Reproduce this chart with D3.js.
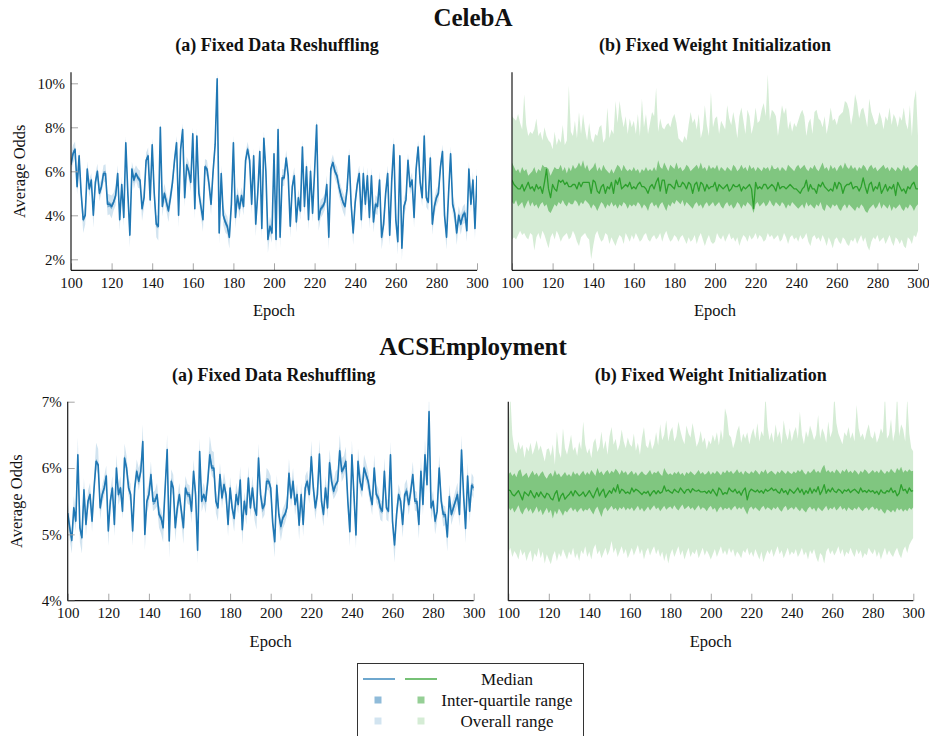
<!DOCTYPE html>
<html><head><meta charset="utf-8">
<script src="https://cdn.jsdelivr.net/npm/d3@7/dist/d3.min.js"></script>
<style>
html,body{margin:0;padding:0;background:#fff;}
svg{display:block;}
text{font-family:"Liberation Serif","Times New Roman",serif;fill:#111;}
</style></head>
<body>
<svg id="chart" width="929" height="736"></svg>
<script>
// ---------- data ----------
const epochs = d3.range(100, 301);
const xTicks = [100,120,140,160,180,200,220,240,260,280,300];
const celebTicks = [2,4,6,8,10];
const acsTicks = [4,5,6,7];
const datasets = ["CelebA","ACSEmployment"];
const subtitles = ["(a) Fixed Data Reshuffling","(b) Fixed Weight Initialization"];
const legendLabels = ["Median","Inter-quartile range","Overall range"];

// CelebA (a) median, %
const celebA_med = [
6.3,6.8,7.0,5.3,6.7,5.0,3.8,4.0,6.1,5.2,
5.6,4.0,5.5,6.0,5.0,5.3,5.9,5.9,4.5,4.5,
4.4,4.6,4.9,5.9,3.8,5.4,3.9,7.3,5.0,3.1,
6.1,5.6,5.9,5.7,5.6,4.3,4.8,6.5,6.7,4.7,
7.2,5.0,3.6,3.5,8.0,4.4,5.0,4.6,4.2,4.8,
5.5,6.5,7.3,4.0,7.0,7.9,4.8,6.3,6.0,5.5,
7.7,4.3,7.6,5.0,4.4,3.8,6.2,6.1,5.4,4.5,
6.0,7.2,10.2,3.2,5.9,4.0,3.7,3.5,3.0,4.5,
7.3,3.9,4.9,4.3,4.9,4.4,6.5,7.0,6.5,4.5,
6.7,3.6,5.0,6.9,3.4,7.5,6.0,2.9,3.5,3.2,
6.8,2.9,7.9,3.0,5.7,5.7,6.6,5.8,3.5,5.3,
5.8,3.7,4.8,4.2,7.1,4.4,6.2,3.8,6.0,4.1,
6.0,8.1,3.8,4.3,4.4,4.6,5.4,3.0,6.1,6.4,
6.0,5.8,5.3,4.9,4.6,4.4,5.2,6.7,4.5,3.2,
4.6,5.4,5.9,3.8,5.9,4.5,5.8,3.9,5.8,3.7,
4.5,4.4,5.6,3.0,3.6,5.0,5.9,3.1,5.6,7.2,
3.8,2.8,6.7,2.5,4.4,4.7,6.5,5.3,5.6,3.9,
6.1,7.1,5.5,4.8,7.6,4.8,4.6,6.6,3.6,4.4,
4.8,5.0,6.2,6.9,4.0,3.0,5.0,6.8,4.5,4.1,
3.2,4.0,3.6,4.0,4.1,3.3,6.1,4.5,5.6,3.4,
5.8];
// CelebA (a) half inter-quartile width, hundredths of %
const celebA_iqr = [
10,12,9,14,11,13,10,12,9,11, 12,10,14,9,11,13,10,12,15,11,
13,10,12,9,14,11,10,13,12,10, 11,14,9,12,10,13,11,9,12,10,
14,11,13,10,12,9,11,14,10,12, 10,13,11,12,9,14,10,12,11,13,
12,9,14,11,10,13,12,10,11,9, 13,11,15,10,12,11,14,12,10,13,
11,12,10,14,9,12,11,13,10,12, 12,10,13,11,14,9,12,10,13,11,
10,12,14,11,13,10,12,9,11,13, 12,11,10,13,9,12,14,10,11,12,
13,15,10,12,11,14,10,12,13,9, 11,12,10,13,12,9,11,14,10,12,
12,10,13,11,9,12,10,14,11,13, 10,12,11,13,10,12,14,9,11,12,
13,10,12,11,14,10,12,13,9,11, 12,13,10,12,11,14,10,12,13,11,
10,12,13,11,10,12,9,14,11,12, 13,11,10,12,14,10,12,11,13,10,
12];
// CelebA (a) distance from median to minimum / maximum, hundredths of %
const celebA_rlo = [
30,45,40,35,50,28,60,42,35,38, 30,55,32,40,36,28,42,35,50,45,
55,38,45,30,50,34,40,28,36,55, 30,40,32,45,38,55,42,35,30,48,
34,40,60,65,30,45,38,42,50,36, 40,32,28,55,30,35,42,30,38,45,
30,48,32,40,45,55,30,36,42,50, 38,30,35,50,32,45,48,40,52,38,
30,50,36,45,34,40,32,30,38,45, 32,55,40,30,50,28,36,60,42,45,
30,55,32,50,38,36,30,34,52,40, 35,48,38,42,30,45,32,50,34,40,
36,30,50,42,38,36,40,55,32,30, 36,38,42,40,45,48,36,32,42,55,
40,36,34,48,35,42,36,50,34,48, 42,40,36,55,50,38,32,48,36,30,
45,58,32,55,40,38,30,36,34,45, 32,30,36,40,30,42,38,32,48,40,
38,36,32,30,45,55,38,32,42,45, 55,42,48,40,45,50,32,40,36,48,
35];
const celebA_rhi = [
45,40,35,38,30,42,36,50,35,40, 32,45,38,34,40,36,38,42,48,45,
50,42,45,38,40,36,45,30,40,38, 32,45,38,40,42,50,45,35,38,40,
30,45,40,48,32,42,45,38,44,40, 42,36,30,45,32,28,40,36,42,38,
30,40,35,42,45,38,36,40,42,45, 38,32,30,48,36,45,42,44,40,38,
32,45,40,42,38,44,36,34,40,42, 35,48,42,30,46,32,40,38,45,42,
34,48,30,52,40,38,36,40,45,42, 38,42,40,44,32,46,36,42,40,38,
36,28,44,42,40,38,42,46,34,36, 38,40,42,40,44,42,38,34,42,48,
40,38,36,44,36,42,38,45,36,44, 42,40,38,46,44,40,36,42,38,35,
42,48,34,46,40,38,32,38,36,42, 34,30,38,40,32,42,40,34,44,40,
38,36,34,32,42,46,38,34,42,44, 48,42,44,40,42,46,34,40,38,44,
36];

// CelebA (b), %
const celebB_med = [
5.6,5.4,5.3,5.2,5.2,5.4,5.1,5.3,5.5,5.2, 5.3,5.1,5.4,5.2,5.3,5.0,5.5,6.1,5.2,4.8,
5.4,5.2,5.1,5.6,5.5,5.6,5.4,5.5,5.3,5.3, 5.4,5.4,5.2,5.5,5.3,5.5,5.5,5.5,5.5,5.0,
5.6,5.5,5.1,5.0,5.3,5.4,5.0,5.3,5.2,5.5, 5.0,5.6,5.4,5.7,5.2,5.3,5.4,5.3,5.5,5.2,
5.3,5.2,5.4,5.5,5.3,5.3,5.2,5.0,5.3,5.4, 5.2,5.5,5.7,5.1,5.6,5.6,5.0,5.4,5.4,5.3,
5.2,5.6,5.3,5.3,5.5,5.4,5.2,5.5,5.4,5.0, 5.4,5.5,5.1,5.5,5.4,5.1,5.4,5.2,5.3,5.3,
5.5,5.1,5.4,5.3,5.2,5.3,5.4,5.1,5.2,5.4, 5.3,5.3,5.4,5.1,5.3,5.2,5.3,5.4,5.2,4.3,
5.5,5.2,5.3,5.2,5.4,5.4,5.2,5.3,5.4,5.3, 5.1,5.5,5.2,5.3,5.3,5.2,5.3,5.4,5.3,5.2,
5.2,5.1,5.0,5.2,5.3,5.6,5.1,5.4,5.2,5.2, 5.0,5.4,5.3,5.5,5.3,5.2,5.1,5.2,5.1,5.5,
5.2,5.5,5.4,5.0,5.3,5.4,5.4,5.5,5.2,5.3, 5.3,5.1,5.3,5.7,5.3,5.0,5.4,5.5,5.1,5.3,
5.2,5.5,5.0,5.2,5.4,5.1,5.3,5.2,5.4,4.9, 5.5,5.3,5.1,5.2,5.0,5.3,5.2,5.4,5.5,5.2,
5.2];
const celebB_q3 = [
6.4,6.2,6.0,6.1,5.9,6.2,6.0,6.1,5.8,5.9, 6.0,6.2,5.9,6.1,6.0,6.3,6.2,6.2,6.1,5.8,
6.0,6.2,6.1,6.1,6.3,6.0,6.2,5.9,6.2,6.0, 6.3,6.1,6.2,6.4,6.2,6.5,6.1,6.3,6.0,6.1,
6.2,6.4,6.0,6.2,6.0,6.3,6.1,6.0,5.9,6.1, 5.9,6.1,6.3,6.2,6.0,6.3,6.1,6.0,6.1,6.0,
6.2,6.0,6.1,5.9,6.1,6.0,6.2,6.0,6.1,6.0, 6.2,6.0,6.5,6.2,6.1,6.4,6.2,6.0,6.3,6.2,
6.1,6.4,6.1,6.2,6.0,6.1,6.3,6.2,6.0,6.1, 6.2,6.3,6.1,6.4,6.1,6.2,6.0,6.3,6.1,6.2,
6.1,6.3,6.0,6.2,6.1,6.0,6.2,6.1,6.0,6.3, 6.2,6.0,6.1,6.3,6.1,6.2,6.0,6.3,6.1,6.2,
6.0,6.2,6.1,6.0,6.2,6.1,6.2,6.0,6.3,6.1, 6.1,6.2,6.0,6.2,6.1,6.0,6.3,6.2,6.1,6.0,
6.2,6.3,6.1,6.2,6.3,6.1,6.0,6.2,6.1,6.3, 6.1,6.0,6.2,6.4,6.1,6.2,6.0,6.3,6.1,6.2,
6.0,6.2,6.3,6.1,6.4,6.2,6.1,6.3,6.1,6.2, 6.0,6.2,6.1,6.3,6.2,6.0,6.2,6.3,6.1,6.2,
6.0,6.1,6.2,6.3,6.1,6.2,6.0,6.2,6.1,6.0, 6.2,6.1,6.0,6.3,6.1,6.2,6.0,6.1,6.2,6.3,
6.2];
const celebB_q1 = [
4.6,4.5,4.7,4.4,4.5,4.6,4.3,4.5,4.7,4.4, 4.6,4.4,4.5,4.3,4.5,4.6,4.4,4.5,4.2,4.1,
4.3,4.5,4.4,4.6,4.5,4.7,4.5,4.4,4.6,4.5, 4.5,4.7,4.6,4.4,4.6,4.5,4.7,4.6,4.5,4.3,
4.5,4.4,4.2,4.4,4.6,4.5,4.3,4.5,4.4,4.6, 4.4,4.5,4.3,4.5,4.4,4.6,4.5,4.3,4.5,4.4,
4.5,4.4,4.6,4.5,4.3,4.5,4.4,4.2,4.5,4.6, 4.4,4.5,4.3,4.5,4.6,4.4,4.2,4.5,4.4,4.6,
4.5,4.7,4.6,4.5,4.7,4.4,4.6,4.5,4.4,4.3, 4.5,4.6,4.4,4.5,4.3,4.5,4.6,4.4,4.5,4.6,
4.4,4.5,4.6,4.4,4.3,4.5,4.6,4.4,4.5,4.3, 4.4,4.6,4.5,4.3,4.5,4.4,4.6,4.5,4.4,4.1,
4.5,4.6,4.4,4.5,4.6,4.4,4.5,4.7,4.5,4.4, 4.6,4.5,4.4,4.6,4.5,4.3,4.5,4.4,4.6,4.5,
4.4,4.3,4.4,4.5,4.3,4.6,4.4,4.5,4.4,4.3, 4.5,4.4,4.6,4.3,4.2,4.5,4.4,4.3,4.5,4.4,
4.5,4.3,4.2,4.4,4.5,4.3,4.5,4.4,4.3,4.2, 4.4,4.3,4.5,4.4,4.2,4.1,4.3,4.4,4.5,4.3,
4.4,4.6,4.3,4.5,4.4,4.3,4.5,4.2,4.4,4.3, 4.4,4.5,4.3,4.2,4.4,4.3,4.5,4.4,4.2,4.4,
4.5];
const celebB_hi = [
8.5,8.4,8.3,8.6,8.2,7.9,9.5,8.1,7.6,7.8, 7.7,7.9,8.4,7.6,7.8,7.4,8.0,7.6,7.4,7.3,
7.0,7.8,7.2,7.5,7.3,8.1,7.2,7.4,9.9,7.8, 7.6,8.3,7.5,8.7,7.7,8.6,7.9,7.4,8.2,7.5,
7.3,7.7,7.6,8.0,8.1,7.3,7.5,8.9,7.5,7.9, 7.7,9.2,8.2,9.2,8.5,8.0,8.5,7.7,8.4,8.0,
8.3,7.7,8.6,7.6,9.3,8.0,8.6,7.7,8.2,8.7, 8.5,9.8,7.8,8.4,8.0,7.9,8.1,8.2,8.0,8.4,
8.6,8.2,7.5,7.4,7.3,7.6,7.4,8.1,8.7,8.2, 8.4,7.9,8.6,7.5,7.9,9.0,8.1,7.6,9.6,8.0,
8.4,8.5,7.7,8.3,8.1,7.9,9.0,8.4,8.1,8.7, 8.2,7.5,8.5,8.9,8.3,7.7,8.8,8.5,7.7,8.1,
8.9,8.2,8.3,8.8,9.1,8.5,10.4,8.3,8.8,8.7, 8.5,7.6,8.3,9.0,8.6,8.9,7.9,8.3,7.8,8.2,
8.0,8.3,8.6,8.8,8.5,7.6,8.2,8.4,7.7,8.7, 8.8,8.4,8.3,8.0,8.5,7.7,8.2,8.9,8.3,8.4,
8.1,8.5,8.6,8.7,9.2,9.1,8.8,8.1,8.6,9.5, 9.1,8.4,8.8,8.9,8.5,8.0,9.3,8.7,8.4,8.1,
8.2,8.7,8.4,7.9,8.5,8.3,8.9,8.1,8.6,8.4, 8.0,8.5,8.3,8.9,8.2,7.9,9.0,7.6,9.2,9.7,
7.6];
const celebB_lo = [
2.9,3.0,2.9,3.1,3.3,3.1,3.2,3.0,2.9,3.2, 3.1,2.4,3.0,3.2,2.9,3.3,3.1,2.8,2.5,3.0,
3.2,2.9,3.3,3.1,2.8,3.0,3.1,3.2,2.9,3.0, 3.3,3.1,2.8,2.6,3.0,3.1,3.2,3.0,2.9,2.0,
2.6,3.1,3.3,3.0,2.8,2.9,3.2,3.1,2.7,3.0, 2.8,2.6,2.9,3.1,3.0,2.7,3.2,3.0,2.8,3.1,
2.9,3.2,3.0,2.8,2.9,3.1,3.2,2.9,2.8,3.0, 3.1,2.9,3.0,3.2,2.8,3.1,3.3,3.0,2.8,2.9,
3.1,3.0,2.8,3.0,3.1,2.9,2.7,3.0,2.8,2.9, 3.1,2.7,3.0,3.2,2.9,2.6,2.9,3.1,2.8,2.7,
2.8,3.2,3.0,2.9,3.1,2.8,3.0,3.2,2.9,3.0, 2.8,3.0,2.6,2.9,3.1,3.0,2.8,3.1,2.9,3.0,
3.2,2.9,3.1,3.0,2.8,2.9,3.2,3.0,3.1,2.9, 3.0,3.1,2.8,2.9,3.2,3.0,2.7,3.0,3.1,2.9,
3.0,2.8,3.1,2.9,3.0,3.2,2.8,2.6,3.0,3.1, 2.9,3.0,2.8,3.1,2.9,2.6,3.0,2.8,2.5,2.9,
3.0,2.8,2.7,3.0,2.9,2.7,2.6,2.9,2.8,3.0, 2.7,2.9,3.1,2.8,3.0,2.6,2.4,2.8,3.0,2.9,
3.1,2.8,2.9,3.0,2.7,2.9,3.1,2.8,2.6,3.0, 2.9,2.7,2.9,2.6,2.5,3.0,2.9,2.7,3.1,3.0,
3.3];

// ACSEmployment (a) median, %
const acsA_med = [
5.32,5.10,4.91,5.40,5.20,6.20,5.10,4.95,5.67,5.15,
5.50,5.60,5.20,5.70,6.10,6.05,5.40,5.60,5.70,5.88,
5.05,5.50,5.70,5.15,6.00,5.60,5.70,5.35,6.15,6.00,
5.70,5.60,5.05,5.70,5.95,5.80,5.95,6.40,5.00,5.50,
5.60,5.90,5.50,5.50,5.60,5.30,5.25,5.10,5.70,6.28,
4.90,5.80,5.70,5.10,5.40,5.60,5.35,5.10,5.70,5.60,
5.60,5.35,5.95,5.60,4.76,6.25,5.50,5.60,5.50,5.80,
6.20,6.00,6.00,5.50,5.40,5.90,5.55,5.75,5.60,5.15,
5.70,5.40,5.24,5.60,5.45,5.82,5.07,5.50,5.30,5.85,
5.40,5.70,5.40,5.29,6.15,5.60,5.39,5.45,5.80,5.80,
5.70,5.17,4.89,5.74,5.30,5.12,5.25,5.30,5.40,5.92,
5.55,5.80,5.45,5.60,5.14,5.60,5.15,5.70,5.80,5.60,
6.17,5.70,5.40,5.60,6.21,5.50,5.30,5.70,5.40,6.08,
5.80,5.65,5.75,5.80,6.26,5.95,6.00,6.10,5.50,5.04,
6.20,5.60,4.99,6.10,5.80,5.67,6.00,5.90,5.80,5.60,
5.45,6.00,5.60,5.55,5.40,5.35,5.95,5.40,5.35,6.20,
5.20,4.84,5.30,5.60,5.50,5.15,5.60,5.65,5.45,5.65,
5.90,5.50,5.50,5.15,5.95,5.45,6.20,5.75,6.85,5.40,
5.50,5.20,5.35,6.00,5.50,5.30,5.30,4.96,5.57,5.30,
5.40,5.50,5.60,5.30,6.27,5.60,5.09,5.88,5.35,5.74,
5.70];
// ACSEmployment (a) spreads, hundredths of %
const acsA_iqr = [
4,5,4,3,5,4,6,4,5,3, 4,5,4,6,4,3,5,4,5,4, 3,5,4,6,4,5,3,4,5,4, 5,4,3,5,4,6,4,5,3,4,
5,4,6,4,3,5,4,5,6,4, 3,5,4,4,5,3,6,4,5,4, 4,5,3,6,4,5,4,3,5,4, 6,5,4,5,3,4,5,4,6,4,
5,4,3,5,4,6,4,5,3,4, 4,5,4,3,5,4,6,4,5,4, 5,3,4,5,4,6,4,3,5,4, 4,5,4,6,3,5,4,5,4,3,
5,4,6,4,5,3,4,5,4,6, 4,5,3,4,6,5,4,5,4,3, 5,4,6,4,5,3,4,5,4,6, 4,3,5,4,6,4,5,3,4,5,
4,6,5,4,3,5,4,6,4,5, 3,4,5,4,6,4,5,3,4,5, 4,5,3,6,4,5,4,3,5,4, 5,4,6,3,4,5,4,5,3,4,
5];
const acsA_rlo = [
12,18,20,14,16,10,22,24,15,18, 14,12,16,10,12,15,18,14,12,16,
22,14,12,18,10,16,14,12,10,15, 12,14,22,12,10,14,12,10,24,18,
16,14,15,12,18,20,24,22,14,12, 26,14,12,20,16,14,18,24,12,14,
16,18,12,14,20,12,16,14,18,12, 14,12,16,18,20,14,16,12,15,18,
12,14,20,16,14,12,22,14,16,12, 14,16,18,22,12,14,16,15,12,14,
16,20,24,12,18,22,16,14,12,10, 14,12,16,14,22,12,18,14,12,14,
12,16,18,14,12,16,18,12,16,14, 14,12,16,14,12,16,14,12,18,22,
12,16,20,14,16,12,14,12,16,14, 16,18,12,14,18,16,14,18,16,12,
18,26,18,14,16,20,14,12,16,14, 12,14,16,22,12,16,14,12,10,18,
14,20,16,12,14,18,16,22,14,16, 14,16,14,18,12,14,22,12,18,14,
16];
const acsA_rhi = [
20,16,12,18,14,26,14,12,18,15, 16,18,14,20,28,24,16,14,18,16,
12,16,18,14,20,16,18,14,22,18, 14,16,12,14,18,20,16,26,12,16,
18,20,14,16,18,14,12,15,16,22, 12,18,20,14,16,18,12,14,18,16,
14,12,18,16,12,20,16,18,14,20, 28,26,24,16,14,18,16,18,14,12,
16,14,12,18,16,20,12,14,16,18, 14,18,16,12,22,16,14,18,20,16,
18,12,10,16,14,12,14,16,18,22, 16,20,14,16,12,18,14,18,16,14,
24,18,14,16,22,16,14,18,16,20, 18,16,20,18,24,20,18,22,16,12,
22,16,12,20,18,16,20,18,16,14, 14,20,16,14,12,14,20,16,14,20,
12,10,14,16,14,12,16,18,14,16, 20,16,14,12,22,16,24,18,28,14,
16,12,14,20,16,14,12,10,18,14, 14,16,18,14,22,16,12,20,14,18,
16];

// ACSEmployment (b), %
const acsB_med = [
5.67,5.66,5.60,5.58,5.62,5.66,5.59,5.52,5.64,5.61, 5.58,5.66,5.60,5.55,5.63,5.57,5.64,5.59,5.55,5.62,
5.60,5.54,5.52,5.61,5.66,5.50,5.58,5.62,5.53,5.57, 5.60,5.65,5.58,5.66,5.62,5.58,5.60,5.64,5.57,5.61,
5.66,5.60,5.55,5.63,5.70,5.58,5.64,5.68,5.56,5.61, 5.66,5.62,5.70,5.64,5.75,5.62,5.68,5.66,5.62,5.64,
5.61,5.70,5.64,5.68,5.66,5.63,5.60,5.64,5.62,5.65, 5.58,5.63,5.66,5.61,5.66,5.62,5.64,5.73,5.65,5.67,
5.64,5.62,5.68,5.65,5.63,5.70,5.66,5.62,5.67,5.68, 5.63,5.69,5.66,5.65,5.67,5.64,5.64,5.65,5.62,5.66,
5.62,5.68,5.63,5.58,5.70,5.67,5.60,5.63,5.61,5.70, 5.66,5.64,5.68,5.62,5.65,5.59,5.66,5.70,5.52,5.64,
5.68,5.66,5.64,5.67,5.63,5.66,5.62,5.68,5.65,5.67, 5.70,5.66,5.68,5.64,5.62,5.69,5.63,5.66,5.60,5.68,
5.65,5.62,5.66,5.70,5.63,5.68,5.60,5.66,5.62,5.70, 5.62,5.68,5.64,5.72,5.60,5.66,5.75,5.62,5.68,5.64,
5.70,5.65,5.63,5.68,5.66,5.62,5.67,5.65,5.68,5.63, 5.66,5.68,5.65,5.62,5.70,5.64,5.66,5.63,5.67,5.64,
5.66,5.62,5.65,5.60,5.67,5.63,5.62,5.66,5.64,5.70, 5.63,5.66,5.58,5.62,5.75,5.66,5.68,5.62,5.70,5.65,
5.66];
const acsB_q3 = [
5.90,5.94,5.88,5.92,5.86,5.95,5.98,5.87,5.90,5.93, 5.85,5.91,5.96,5.89,5.93,5.87,5.92,5.95,5.88,5.84,
5.90,5.93,5.87,5.97,5.89,5.92,5.86,5.90,5.94,5.88, 5.91,5.87,5.95,5.90,5.93,5.88,5.92,5.96,5.89,5.94,
5.90,5.97,5.93,5.88,6.00,5.92,5.95,5.89,5.94,5.97, 5.91,5.96,5.93,5.99,5.95,5.90,5.97,5.92,5.95,5.89,
5.93,5.96,5.90,5.94,5.88,5.92,5.95,5.91,5.89,5.93, 5.97,5.90,5.94,5.92,5.96,5.91,5.88,6.00,5.94,5.90,
5.92,5.89,5.94,5.91,5.95,5.90,5.93,5.88,5.94,5.91, 5.95,5.92,5.89,5.93,5.97,5.91,5.94,5.90,5.92,5.96,
5.90,5.94,5.91,5.96,5.93,5.89,5.95,5.92,5.97,5.93, 5.96,5.91,5.94,5.98,5.92,5.95,5.90,5.96,5.93,5.91,
5.95,5.92,5.97,5.94,5.90,5.96,5.93,5.98,5.91,5.94, 5.96,5.93,5.90,5.95,5.92,5.97,5.94,5.91,5.96,5.93,
5.91,5.95,5.92,5.97,5.94,5.98,5.93,5.90,5.96,5.92, 5.95,5.99,5.93,5.96,5.92,6.00,6.05,5.94,5.97,5.93,
5.96,5.92,5.98,5.95,5.91,5.97,5.94,5.99,5.93,5.96, 5.92,5.97,5.94,5.90,5.96,5.93,5.98,5.95,5.91,5.94,
5.97,5.93,5.96,5.92,5.98,5.94,5.91,5.96,5.93,5.99, 5.95,5.92,6.00,5.96,6.02,5.93,5.97,5.94,5.98,5.95,
5.96];
const acsB_q1 = [
5.42,5.36,5.40,5.33,5.38,5.44,5.35,5.30,5.37,5.41, 5.34,5.39,5.31,5.36,5.42,5.33,5.38,5.29,5.35,5.40,
5.32,5.37,5.24,5.36,5.30,5.39,5.34,5.28,5.36,5.33, 5.38,5.41,5.35,5.39,5.33,5.37,5.40,5.34,5.38,5.36,
5.40,5.35,5.30,5.38,5.42,5.34,5.26,5.37,5.41,5.35, 5.39,5.43,5.37,5.40,5.35,5.41,5.38,5.42,5.36,5.40,
5.37,5.41,5.35,5.39,5.43,5.36,5.40,5.34,5.38,5.42, 5.36,5.40,5.44,5.38,5.41,5.35,5.39,5.43,5.37,5.40,
5.42,5.38,5.44,5.39,5.36,5.41,5.45,5.38,5.40,5.43, 5.38,5.41,5.36,5.40,5.44,5.37,5.41,5.39,5.35,5.40,
5.43,5.37,5.40,5.33,5.39,5.42,5.36,5.40,5.38,5.41, 5.36,5.40,5.43,5.37,5.41,5.38,5.42,5.36,5.30,5.39,
5.42,5.37,5.41,5.38,5.35,5.40,5.43,5.37,5.41,5.39, 5.36,5.41,5.38,5.42,5.37,5.34,5.40,5.43,5.36,5.39,
5.41,5.37,5.42,5.38,5.35,5.40,5.36,5.33,5.39,5.42, 5.37,5.40,5.34,5.41,5.38,5.35,5.39,5.43,5.36,5.40,
5.38,5.42,5.36,5.39,5.43,5.37,5.40,5.35,5.41,5.38, 5.36,5.40,5.37,5.42,5.38,5.35,5.39,5.41,5.36,5.40,
5.42,5.37,5.40,5.35,5.39,5.34,5.31,5.38,5.36,5.33, 5.37,5.33,5.40,5.36,5.39,5.34,5.38,5.35,5.40,5.37,
5.41];
const acsB_hi = [
6.45,7.10,6.50,6.30,6.22,6.40,6.28,6.35,6.15,6.32, 6.25,6.38,6.20,6.30,6.42,6.26,6.34,6.22,6.10,6.28,
6.30,6.18,6.36,6.05,6.55,6.24,6.15,6.60,6.30,6.20, 6.34,6.50,6.26,6.32,6.18,6.40,6.28,6.70,6.35,6.22,
6.30,6.15,6.38,6.45,6.24,6.32,6.55,6.28,6.42,6.20, 6.48,6.62,6.35,6.44,6.26,6.36,6.58,6.40,6.30,6.46,
6.36,6.32,6.52,6.26,6.38,6.20,6.46,6.62,6.34,6.30, 6.44,6.28,6.36,6.54,6.34,6.66,6.42,6.50,6.72,6.40,
6.55,6.62,6.40,6.48,6.70,6.56,6.44,6.36,6.64,6.52, 6.46,6.68,6.50,6.32,6.40,6.56,6.38,6.46,6.28,6.42,
6.36,6.50,6.40,6.54,6.34,6.58,6.42,6.90,6.78,6.50, 6.46,6.30,6.40,6.56,6.64,6.38,6.52,6.44,6.54,6.36,
6.50,6.60,6.44,6.68,6.40,6.56,6.48,7.10,6.62,6.42, 6.54,6.38,6.66,6.46,6.56,6.36,6.72,6.52,6.42,6.60,
6.40,6.54,6.62,6.44,6.85,6.50,6.36,6.56,6.46,6.64, 6.54,6.42,6.50,6.80,6.44,6.60,6.52,6.38,6.70,6.46,
6.56,7.10,6.68,6.52,6.44,6.36,6.54,6.48,6.62,6.44, 6.54,6.40,6.95,6.60,6.46,6.52,6.42,6.56,6.66,6.48,
6.44,6.56,6.38,6.46,6.60,6.52,7.10,6.44,6.50,6.74, 6.40,6.56,7.10,6.48,6.66,6.58,6.40,7.05,6.52,6.30,
6.25];
const acsB_lo = [
4.72,4.80,4.66,4.75,4.70,4.62,4.78,4.68,4.74,4.60, 4.70,4.76,4.58,4.72,4.66,4.80,4.64,4.74,4.56,4.70,
4.62,4.55,4.68,4.75,4.60,4.72,4.66,4.78,4.70,4.62, 4.74,4.68,4.80,4.64,4.72,4.60,4.76,4.70,4.82,4.66,
4.74,4.62,4.78,4.85,4.70,4.76,4.64,4.72,4.80,4.68, 4.76,4.90,4.72,4.80,4.66,4.74,4.82,4.70,4.78,4.64,
4.72,4.80,4.68,4.76,4.84,4.70,4.78,4.62,4.74,4.80, 4.68,4.76,4.82,4.70,4.78,4.66,4.74,4.60,4.72,4.56,
4.70,4.78,4.66,4.74,4.82,4.68,4.76,4.62,4.72,4.80, 4.66,4.74,4.70,4.78,4.64,4.72,4.80,4.68,4.76,4.70,
4.62,4.70,4.78,4.66,4.74,4.82,4.70,4.76,4.68,4.80, 4.72,4.78,4.66,4.74,4.70,4.64,4.76,4.72,4.80,4.68,
4.74,4.66,4.78,4.70,4.62,4.74,4.58,4.68,4.76,4.70, 4.78,4.66,4.74,4.82,4.70,4.76,4.64,4.72,4.80,4.68,
4.74,4.70,4.78,4.66,4.72,4.80,4.68,4.74,4.62,4.76, 4.70,4.78,4.66,4.58,4.72,4.68,4.56,4.74,4.80,4.70,
4.76,4.68,4.74,4.82,4.70,4.78,4.66,4.74,4.70,4.80, 4.72,4.66,4.78,4.70,4.76,4.64,4.72,4.68,4.80,4.74,
4.70,4.78,4.66,4.74,4.62,4.72,4.80,4.68,4.76,4.70, 4.66,4.74,4.80,4.70,4.64,4.76,4.82,4.72,4.84,4.90,
4.95];

// ---------- build rows ----------
function fromSpreads(med, iqr, rlo, rhi) {
  return epochs.map((e, i) => ({e, med: med[i],
    q1: med[i] - iqr[i]/100, q3: med[i] + iqr[i]/100,
    lo: med[i] - rlo[i]/100, hi: med[i] + rhi[i]/100}));
}
function fromBounds(med, q1, q3, lo, hi) {
  return epochs.map((e, i) => ({e, med: med[i], q1: q1[i], q3: q3[i], lo: lo[i], hi: hi[i]}));
}

const BLUE = "#1f77b4", GREEN = "#2ca02c";
const AXIS = "#1a1a1a", TICK = "#a6a6a6";

const panels = [
  {rows: fromSpreads(celebA_med, celebA_iqr, celebA_rlo, celebA_rhi), color: BLUE,
   x0: 71, x1: 477, yTop: 72.3, yBot: 270.3, ydom: [1.5, 10.5], yticks: celebTicks, ylab: true},
  {rows: fromBounds(celebB_med, celebB_q1, celebB_q3, celebB_lo, celebB_hi), color: GREEN,
   x0: 512, x1: 918, yTop: 72.3, yBot: 270.3, ydom: [1.5, 10.5], yticks: celebTicks, ylab: false},
  {rows: fromSpreads(acsA_med, acsA_iqr, acsA_rlo, acsA_rhi), color: BLUE,
   x0: 67.7, x1: 473.7, yTop: 401.7, yBot: 600.7, ydom: [4, 7], yticks: acsTicks, ylab: true},
  {rows: fromBounds(acsB_med, acsB_q1, acsB_q3, acsB_lo, acsB_hi), color: GREEN,
   x0: 508.3, x1: 913.3, yTop: 401.7, yBot: 600.7, ydom: [4, 7], yticks: acsTicks, ylab: false}
];

const svg = d3.select("#chart");
const defs = svg.append("defs");

panels.forEach((p, k) => {
  const x = d3.scaleLinear().domain([100, 300]).range([p.x0, p.x1]);
  const y = d3.scaleLinear().domain(p.ydom).range([p.yBot, p.yTop]);
  const cid = "clip" + k;
  defs.append("clipPath").attr("id", cid).append("rect")
    .attr("x", p.x0).attr("y", p.yTop).attr("width", p.x1 - p.x0).attr("height", p.yBot - p.yTop);
  const g = svg.append("g");
  const plot = g.append("g").attr("clip-path", `url(#${cid})`);
  plot.append("path").datum(p.rows)
    .attr("d", d3.area().x(d => x(d.e)).y0(d => y(d.lo)).y1(d => y(d.hi)))
    .attr("fill", p.color).attr("fill-opacity", 0.2);
  plot.append("path").datum(p.rows)
    .attr("d", d3.area().x(d => x(d.e)).y0(d => y(d.q1)).y1(d => y(d.q3)))
    .attr("fill", p.color).attr("fill-opacity", 0.5);
  plot.append("path").datum(p.rows)
    .attr("d", d3.line().x(d => x(d.e)).y(d => y(d.med)))
    .attr("fill", "none").attr("stroke", p.color).attr("stroke-width", p.ylab ? 1.6 : 1.3)
    .attr("stroke-linejoin", "round");

  // x axis (ticks point inward)
  const xa = g.append("g").attr("transform", `translate(0,${p.yBot})`)
    .call(d3.axisBottom(x).tickValues(xTicks).tickSize(-7).tickSizeOuter(0).tickPadding(7).tickFormat(d3.format("d")));
  xa.select(".domain").remove();
  xa.selectAll(".tick line").attr("stroke", TICK).attr("stroke-width", 1);
  xa.selectAll(".tick text").attr("font-size", 15).attr("fill", "#111")
    .attr("font-family", '"Liberation Serif",serif');
  g.append("line").attr("x1", p.x0).attr("x2", p.x1).attr("y1", p.yBot).attr("y2", p.yBot)
    .attr("stroke", AXIS).attr("stroke-width", 1.2);

  // y axis (ticks point inward)
  if (p.ylab) {
    const ya = g.append("g").attr("transform", `translate(${p.x0},0)`)
      .call(d3.axisLeft(y).tickValues(p.yticks).tickSize(-7).tickSizeOuter(0).tickPadding(6).tickFormat(d => d + "%"));
    ya.select(".domain").remove();
    ya.selectAll(".tick line").attr("stroke", TICK).attr("stroke-width", 1);
    ya.selectAll(".tick text").attr("font-size", 15).attr("fill", "#111")
      .attr("font-family", '"Liberation Serif",serif');
  }
  g.append("line").attr("x1", p.x0).attr("x2", p.x0).attr("y1", p.yTop).attr("y2", p.yBot)
    .attr("stroke", AXIS).attr("stroke-width", 1.2);

  // labels
  const cx = (p.x0 + p.x1) / 2;
  g.append("text").attr("x", cx).attr("y", p.yBot + 46).attr("text-anchor", "middle")
    .attr("font-size", 16.5).text("Epoch");
  g.append("text").attr("x", cx + (k % 2 === 0 ? 3 : 0)).attr("y", p.yTop - 21).attr("text-anchor", "middle")
    .attr("font-size", 18).attr("font-weight", "bold").text(subtitles[k % 2]);
  if (p.ylab) {
    g.append("text").attr("transform", `translate(${p.x0 - 46},${(p.yTop + p.yBot) / 2}) rotate(-90)`)
      .attr("text-anchor", "middle").attr("font-size", 16.5).text("Average Odds");
  }
});

// dataset titles
svg.append("text").attr("x", 473).attr("y", 26).attr("text-anchor", "middle")
  .attr("font-size", 25).attr("font-weight", "bold").text(datasets[0]);
svg.append("text").attr("x", 473).attr("y", 355).attr("text-anchor", "middle")
  .attr("font-size", 25).attr("font-weight", "bold").text(datasets[1]);

// legend
const lg = svg.append("g");
lg.append("rect").attr("x", 357.5).attr("y", 663.5).attr("width", 226).attr("height", 80)
  .attr("fill", "#fff").attr("stroke", "#333").attr("stroke-width", 1);
const rowsY = [679, 700, 721];
lg.append("line").attr("x1", 363).attr("x2", 395).attr("y1", rowsY[0]).attr("y2", rowsY[0])
  .attr("stroke", BLUE).attr("stroke-width", 1.3);
lg.append("line").attr("x1", 405).attr("x2", 437).attr("y1", rowsY[0]).attr("y2", rowsY[0])
  .attr("stroke", GREEN).attr("stroke-width", 1.3);
[[BLUE, 378], [GREEN, 421]].forEach(([c, cx]) => {
  lg.append("rect").attr("x", cx - 3.5).attr("y", rowsY[1] - 3.5).attr("width", 7).attr("height", 7)
    .attr("fill", c).attr("fill-opacity", 0.5);
  lg.append("rect").attr("x", cx - 3.5).attr("y", rowsY[2] - 3.5).attr("width", 7).attr("height", 7)
    .attr("fill", c).attr("fill-opacity", 0.2);
});
legendLabels.forEach((t, i) => {
  lg.append("text").attr("x", 507).attr("y", rowsY[i]).attr("dy", "0.35em")
    .attr("text-anchor", "middle").attr("font-size", 17).text(t);
});
</script>
</body></html>
